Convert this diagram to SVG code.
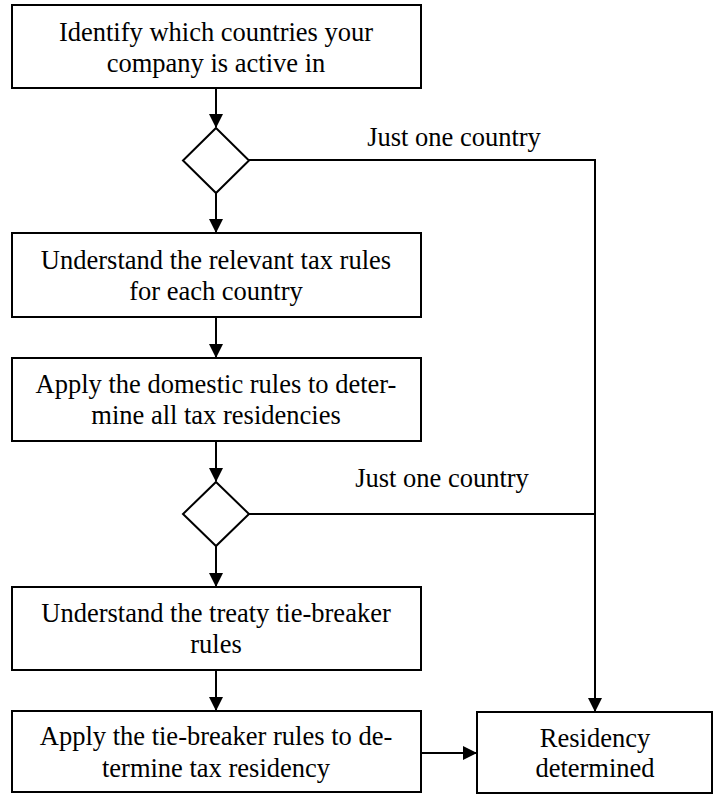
<svg xmlns="http://www.w3.org/2000/svg" width="715" height="794" viewBox="0 0 715 794">
<style>
.box{fill:#fff;stroke:#000;stroke-width:2}
.t{font-family:"Liberation Serif","Times New Roman",serif;font-size:26.5px;fill:#000;text-anchor:middle}
.c{fill:none;stroke:#000;stroke-width:2}
</style>
<defs>
<marker id="ah" markerWidth="14" markerHeight="14" viewBox="0 0 14 14" refX="13" refY="7" orient="auto" markerUnits="userSpaceOnUse">
<path d="M0,0 L14,7 L0,14 Z" fill="#000"/>
</marker>
</defs>
<rect width="715" height="794" fill="#fff"/>
<g id="connectors">
<line class="c" x1="216" y1="88" x2="216" y2="127" marker-end="url(#ah)"/>
<line class="c" x1="216" y1="193" x2="216" y2="232" marker-end="url(#ah)"/>
<line class="c" x1="216" y1="317" x2="216" y2="357" marker-end="url(#ah)"/>
<line class="c" x1="216" y1="441" x2="216" y2="481" marker-end="url(#ah)"/>
<line class="c" x1="216" y1="546" x2="216" y2="586" marker-end="url(#ah)"/>
<line class="c" x1="216" y1="670" x2="216" y2="710" marker-end="url(#ah)"/>
<polyline class="c" points="249,160 595,160 595,711" marker-end="url(#ah)"/>
<line class="c" x1="249" y1="514" x2="595" y2="514"/>
<line class="c" x1="421" y1="753" x2="476" y2="753" marker-end="url(#ah)"/>
<text class="t" x="454" y="146">Just one country</text>
<text class="t" x="442" y="487">Just one country</text>
</g>
<g id="n1"><rect class="box" x="12" y="5" width="409" height="83"/>
<text class="t" x="216" y="41">Identify which countries your</text>
<text class="t" x="216" y="72">company is active in</text></g>
<g id="d1"><polygon class="box" points="216,128 249,160.5 216,193 183,160.5"/></g>
<g id="n2"><rect class="box" x="12" y="233" width="409" height="84"/>
<text class="t" x="216" y="269">Understand the relevant tax rules</text>
<text class="t" x="216" y="300">for each country</text></g>
<g id="n3"><rect class="box" x="12" y="358" width="409" height="83"/>
<text class="t" x="216" y="393">Apply the domestic rules to deter-</text>
<text class="t" x="216" y="424">mine all tax residencies</text></g>
<g id="d2"><polygon class="box" points="216,482 249,514 216,546 183,514"/></g>
<g id="n4"><rect class="box" x="12" y="587" width="409" height="83"/>
<text class="t" x="216" y="622">Understand the treaty tie-breaker</text>
<text class="t" x="216" y="653">rules</text></g>
<g id="n5"><rect class="box" x="12" y="711" width="409" height="81"/>
<text class="t" x="216" y="745">Apply the tie-breaker rules to de-</text>
<text class="t" x="216" y="777">termine tax residency</text></g>
<g id="n6"><rect class="box" x="477" y="712" width="235" height="81"/>
<text class="t" x="595" y="747">Residency</text>
<text class="t" x="595" y="777">determined</text></g>
</svg>
